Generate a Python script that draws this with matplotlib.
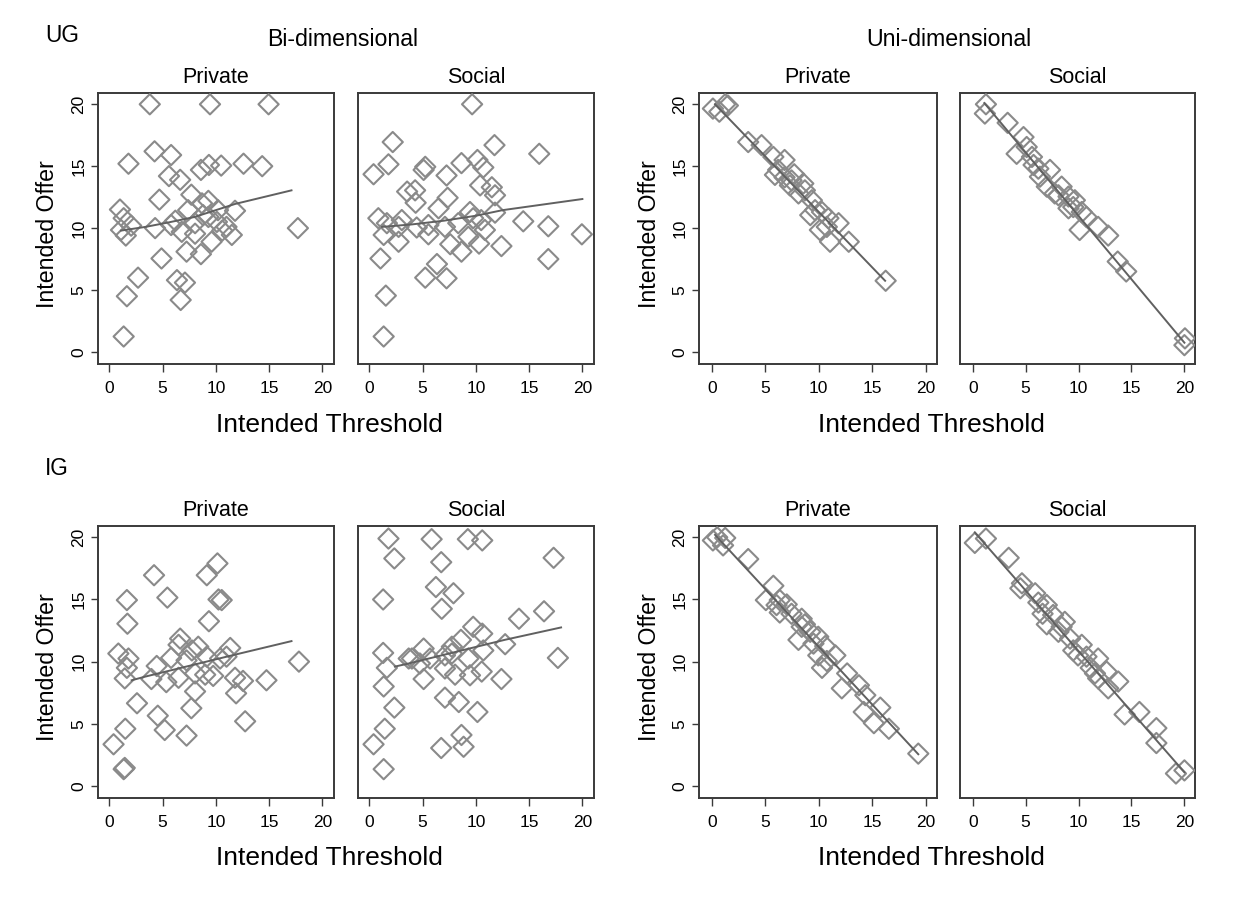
import matplotlib.pyplot as plt

plt.rcParams['font.family'] = ['Liberation Sans', 'DejaVu Sans']

# (threshold, offer) pairs, one list per panel
ug_bi_private = [(3.8, 20.0), (9.45, 20.0), (14.95, 20.0), (4.25, 16.2), (5.8, 15.9), (1.8, 15.2),
                 (8.6, 14.7), (9.35, 15.1), (10.5, 15.05), (12.6, 15.2), (14.35, 15.0), (5.6, 14.2),
                 (6.65, 13.9), (7.7, 12.7), (4.7, 12.3), (9.3, 12.2), (1.0, 11.5), (11.8, 11.4),
                 (10.2, 11.45), (7.4, 11.45), (8.7, 12.0), (1.35, 10.8), (2.05, 10.2), (1.1, 9.85),
                 (1.55, 9.4), (4.3, 10.0), (5.8, 10.25), (6.8, 9.7), (8.05, 9.55), (9.3, 10.9),
                 (10.1, 10.5), (11.0, 10.1), (11.5, 9.45), (9.6, 8.9), (17.7, 10.0), (7.25, 8.1),
                 (8.6, 7.9), (4.9, 7.55), (2.7, 6.0), (6.35, 5.8), (7.1, 5.6), (6.7, 4.2),
                 (1.65, 4.5), (1.35, 1.25), (8.05, 10.4), (8.8, 11.05), (6.2, 10.6), (10.6, 9.8)]
ug_bi_social = [(9.65, 20.0), (2.2, 16.95), (11.75, 16.7), (15.95, 16.0), (1.8, 15.15), (0.4, 14.35),
                (5.25, 14.95), (5.1, 14.7), (7.25, 14.25), (8.65, 15.25), (10.15, 15.5), (10.7, 14.9),
                (10.4, 13.45), (11.5, 13.3), (11.8, 12.65), (3.55, 12.95), (4.3, 13.05), (4.35, 12.05),
                (7.35, 12.45), (6.5, 11.6), (9.45, 11.3), (11.8, 11.25), (0.85, 10.8), (1.65, 10.4),
                (3.05, 10.65), (2.75, 10.1), (4.45, 10.05), (5.55, 10.25), (5.55, 9.5), (7.1, 10.1),
                (8.35, 10.4), (9.75, 10.8), (10.5, 10.65), (10.85, 9.85), (14.45, 10.55), (16.8, 10.15),
                (19.95, 9.5), (1.35, 9.45), (2.75, 8.9), (7.6, 8.7), (8.65, 8.1), (10.3, 8.75),
                (9.3, 9.3), (12.4, 8.55), (1.05, 7.55), (16.8, 7.5), (6.35, 7.1), (5.25, 6.0),
                (7.25, 5.95), (1.55, 4.55), (1.35, 1.25)]
ug_uni_private = [(0.1, 19.65), (0.7, 19.4), (1.25, 20.0), (1.5, 19.9), (3.4, 16.95), (4.65, 16.7),
                  (5.75, 15.75), (6.8, 15.5), (6.2, 14.7), (6.8, 14.1), (7.7, 14.35), (7.3, 13.45),
                  (8.55, 13.6), (8.1, 12.8), (9.35, 12.25), (9.2, 11.05), (10.3, 11.3), (10.9, 10.8),
                  (11.85, 10.4), (10.1, 9.85), (11.05, 8.9), (12.8, 8.9), (16.25, 5.75), (5.9, 14.3),
                  (7.45, 13.85), (8.7, 13.05), (9.65, 11.45), (10.75, 10.1)]
ug_uni_social = [(1.25, 20.0), (1.15, 19.25), (3.3, 18.5), (4.8, 17.35), (4.15, 16.0), (5.6, 15.75),
                 (5.1, 16.55), (5.75, 15.1), (6.35, 14.15), (7.3, 14.7), (7.0, 13.35), (8.4, 13.35),
                 (8.1, 12.65), (9.05, 12.55), (9.65, 12.25), (9.05, 11.6), (10.3, 11.3), (10.75, 10.9),
                 (10.1, 9.85), (11.85, 10.1), (12.8, 9.4), (13.7, 7.3), (14.5, 6.5), (20.05, 1.1),
                 (20.0, 0.55), (6.2, 14.8), (7.75, 12.8), (9.5, 11.7)]
ig_bi_private = [(10.15, 17.9), (9.15, 16.95), (4.2, 16.95), (1.65, 14.95), (5.45, 15.15), (10.25, 15.0),
                 (10.55, 14.95), (9.35, 13.25), (1.7, 13.05), (6.65, 11.85), (6.5, 11.35), (8.35, 11.2),
                 (11.35, 11.1), (0.85, 10.65), (1.8, 10.25), (5.8, 10.3), (7.25, 10.1), (7.75, 10.9),
                 (9.15, 10.4), (10.4, 10.25), (11.0, 10.4), (4.45, 9.65), (1.65, 9.5), (1.45, 8.65),
                 (3.95, 8.6), (5.35, 8.35), (6.5, 8.7), (8.05, 9.05), (9.0, 8.95), (9.75, 8.85),
                 (11.8, 8.7), (12.55, 8.45), (14.75, 8.5), (17.8, 10.0), (8.05, 7.6), (11.9, 7.45),
                 (2.6, 6.65), (7.7, 6.25), (4.55, 5.65), (5.2, 4.5), (1.5, 4.6), (7.25, 4.05),
                 (12.75, 5.2), (0.4, 3.35), (1.35, 1.35), (1.45, 1.45)]
ig_bi_social = [(1.8, 19.9), (5.85, 19.85), (9.25, 19.85), (10.6, 19.75), (2.35, 18.3), (6.75, 18.0),
                (17.3, 18.35), (6.25, 16.0), (7.9, 15.5), (1.3, 15.0), (6.8, 14.25), (14.05, 13.45),
                (16.4, 14.05), (9.75, 12.8), (10.6, 12.25), (12.75, 11.4), (8.6, 11.75), (7.75, 11.2),
                (1.3, 10.7), (1.65, 9.5), (3.7, 10.25), (5.1, 11.05), (4.75, 9.85), (5.7, 10.25),
                (7.1, 10.5), (7.75, 10.65), (9.3, 10.25), (10.7, 10.9), (5.1, 8.6), (7.1, 9.45),
                (8.05, 8.95), (9.45, 8.9), (10.55, 9.2), (12.4, 8.6), (17.7, 10.3), (1.35, 8.0),
                (7.1, 7.1), (8.4, 6.75), (10.15, 5.95), (2.35, 6.3), (1.45, 4.6), (0.4, 3.35),
                (8.65, 4.1), (8.85, 3.15), (6.75, 3.05), (1.35, 1.35), (4.0, 10.25)]
ig_uni_private = [(0.1, 19.75), (0.5, 20.0), (1.05, 19.35), (1.25, 19.95), (3.4, 18.25), (5.75, 16.1),
                  (5.05, 14.95), (6.35, 14.95), (7.0, 14.6), (6.35, 13.95), (7.45, 13.85), (8.4, 13.45),
                  (8.4, 12.8), (9.2, 12.4), (9.95, 12.0), (8.1, 11.75), (9.5, 11.45), (10.6, 11.25),
                  (9.95, 10.5), (10.75, 10.05), (11.55, 10.5), (10.3, 9.5), (12.65, 9.05), (12.15, 7.85),
                  (13.75, 8.1), (14.35, 7.3), (15.75, 6.3), (14.2, 5.95), (15.15, 5.05), (16.55, 4.6),
                  (19.3, 2.6), (6.05, 14.55), (8.7, 13.0)]
ig_uni_social = [(0.2, 19.55), (1.25, 19.9), (3.4, 18.35), (4.65, 16.3), (4.5, 15.9), (5.9, 15.5),
                 (7.0, 14.55), (6.6, 13.85), (7.6, 13.75), (7.0, 13.0), (8.7, 13.2), (8.1, 12.4),
                 (9.2, 11.85), (10.3, 11.35), (9.5, 10.9), (9.95, 10.5), (11.85, 10.25), (11.15, 9.5),
                 (12.65, 9.2), (11.85, 8.65), (13.75, 8.4), (12.8, 7.85), (14.35, 5.75), (15.75, 5.95),
                 (17.35, 4.65), (17.35, 3.45), (19.2, 1.0), (20.0, 1.25), (6.2, 14.75), (8.4, 12.8),
                 (10.75, 10.4), (11.55, 9.05)]

# smoothed fit lines as drawn in the reference
ug_bi_private_fit = [(1.1, 9.8), (3.4, 10.1), (5.5, 10.45), (8.0, 10.9), (11.8, 11.95), (17.1, 13.05)]
ug_bi_social_fit = [(1.2, 10.1), (4.0, 10.3), (7.0, 10.6), (10.0, 11.0), (12.5, 11.45), (20.0, 12.35)]
ug_uni_private_fit = [(0.3, 20.0), (16.2, 5.75)]
ug_uni_social_fit = [(1.1, 20.1), (20.0, 0.75)]
ig_bi_private_fit = [(2.1, 8.5), (3.4, 8.8), (6.5, 9.45), (11.5, 10.5), (17.1, 11.65)]
ig_bi_social_fit = [(2.4, 9.6), (3.7, 9.85), (7.0, 10.55), (12.7, 11.75), (18.0, 12.75)]
ig_uni_private_fit = [(0.3, 20.2), (19.3, 2.55)]
ig_uni_social_fit = [(0.2, 20.4), (20.0, 1.1)]

ticks = [0, 5, 10, 15, 20]

W, H = 1249, 913
fig = plt.figure(figsize=(W / 100, H / 100), dpi=100)


def px_axes(x0, y0, x1, y1):
    return fig.add_axes([x0 / W, 1 - y1 / H, (x1 - x0) / W, (y1 - y0) / H])


def panel(ax, pts, fit, title, xlim, first):
    x, y = zip(*pts)
    fx, fy = zip(*fit)
    ax.scatter(x, y, marker='D', s=10.3 ** 2, facecolors='none', edgecolors='#8a8a8a',
               linewidths=1.5, zorder=3)
    ax.plot(fx, fy, color='#606060', lw=1.4, zorder=4)
    ax.set_xlim(*xlim)
    ax.set_ylim(-0.97, 20.91)
    ax.set_xticks(ticks)
    ax.set_yticks(ticks)
    for s in ax.spines.values():
        s.set_color('#3a3a3a')
        s.set_linewidth(1.4)
    ax.tick_params(axis='x', direction='out', length=5.5, width=1, color='#3a3a3a',
                   labelsize=12.5, pad=6.5)
    ax.tick_params(axis='y', direction='out', length=5.3, width=1, color='#3a3a3a',
                   labelsize=12.5, pad=3, labelrotation=90)
    for lab in ax.get_yticklabels():
        lab.set_va('center')
    if not first:
        ax.tick_params(axis='y', left=False, labelleft=False)
    bb = ax.get_position()
    fig.text((bb.x0 + bb.x1) / 2, 1 - (H - bb.y1 * H - 9.7) / H, title, ha='center',
             va='baseline', fontsize=15.5)


rows = [
    (93, 364, 'UG', [ug_bi_private, ug_bi_social, ug_uni_private, ug_uni_social],
     [ug_bi_private_fit, ug_bi_social_fit, ug_uni_private_fit, ug_uni_social_fit]),
    (526, 798, 'IG', [ig_bi_private, ig_bi_social, ig_uni_private, ig_uni_social],
     [ig_bi_private_fit, ig_bi_social_fit, ig_uni_private_fit, ig_uni_social_fit]),
]
cols = [(98, 334, (-1.06, 21.09)), (358, 594, (-1.06, 21.09)),
        (699, 937, (-1.2, 21.05)), (960, 1195, (-1.2, 21.0))]
titles = ['Private', 'Social', 'Private', 'Social']

for top, bot, game, data, fits in rows:
    for i, (x0, x1, xl) in enumerate(cols):
        ax = px_axes(x0, top, x1, bot)
        panel(ax, data[i], fits[i], titles[i], xl, i % 2 == 0)
    fig.text(45 / W, 1 - (top - 50.7) / H, game, ha='left', va='baseline', fontsize=16.3)
    fig.text(329 / W, 1 - (top + 338.7) / H, 'Intended Threshold', ha='center', va='baseline',
             fontsize=19)
    fig.text(931 / W, 1 - (top + 338.7) / H, 'Intended Threshold', ha='center', va='baseline',
             fontsize=19)
    fig.text(48 / W, 1 - (top + 141) / H, 'Intended Offer', rotation=90, ha='center', va='center',
             fontsize=16.7)
    fig.text(650 / W, 1 - (top + 141) / H, 'Intended Offer', rotation=90, ha='center', va='center',
             fontsize=16.7)

fig.text(342.5 / W, 1 - 45.7 / H, 'Bi-dimensional', ha='center', va='baseline', fontsize=16.7)
fig.text(949 / W, 1 - 45.7 / H, 'Uni-dimensional', ha='center', va='baseline', fontsize=16.7)

fig.savefig('out.png', dpi=100, facecolor='white')
